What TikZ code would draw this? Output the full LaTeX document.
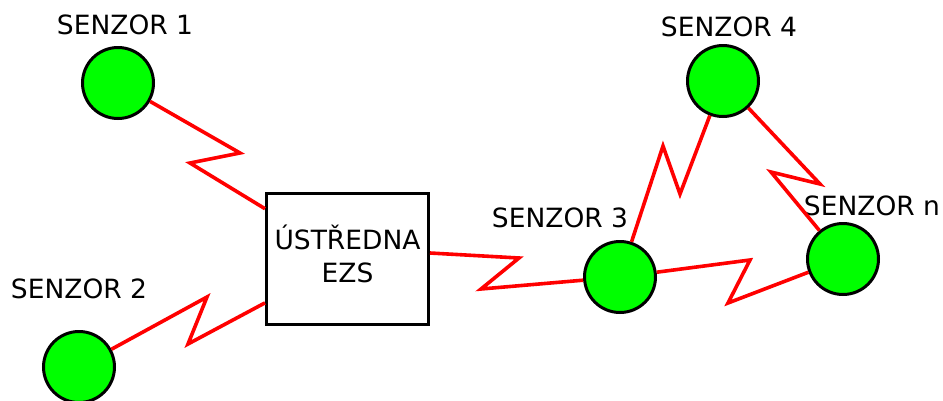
\documentclass[tikz,border=0pt]{standalone}
\usepackage{fontspec}
\setmainfont{DejaVu Sans}
\begin{document}
\begin{tikzpicture}[x=1pt,y=-1pt,
  sensor/.style={circle,draw=black,line width=3pt,fill={rgb,255:red,0;green,255;blue,0},minimum size=71pt,inner sep=0pt},
  lbl/.style={font=\fontsize{26.5}{30}\selectfont,inner sep=0pt},
  link/.style={draw={rgb,255:red,255;green,0;blue,0},line width=3.6pt,line join=miter},
  unit/.style={draw=black,line width=3pt,minimum width=162pt,minimum height=131pt,inner sep=0pt},
  unittext/.style={align=center,inner sep=0pt,font=\fontsize{26.5}{33}\selectfont}]
\useasboundingbox (0,0) rectangle (943,400);
\node[sensor] (s1) at (118,83) {};
\node[sensor] (s2) at (79,367) {};
\node[sensor] (s3) at (620,277) {};
\node[sensor] (s4) at (723,81) {};
\node[sensor] (sn) at (843,259) {};
\node[unit] (box) at (347.5,259) {};
\node[unittext] (boxtext) at (347.5,254) {ÚSTŘEDNA\\EZS};
\node[lbl] (l1) at (125,25) {SENZOR 1};
\node[lbl] (l2) at (79,289) {SENZOR 2};
\node[lbl] (l3) at (560,218) {SENZOR 3};
\node[lbl] (l4) at (729,27) {SENZOR 4};
\node[lbl] (ln) at (872,206) {SENZOR n};
\coordinate (a1) at (240,153); \coordinate (b1) at (190,163);
\coordinate (a2) at (207,297); \coordinate (b2) at (188,344);
\coordinate (a3) at (519,258); \coordinate (b3) at (481,289);
\coordinate (a4) at (663,146); \coordinate (b4) at (680,194);
\coordinate (a5) at (820,184); \coordinate (b5) at (771,172);
\coordinate (a6) at (750,260); \coordinate (b6) at (728,303);
\draw[link] (s1) -- (a1) -- (b1) -- (box);
\draw[link] (s2) -- (a2) -- (b2) -- (box);
\draw[link] (box.east |- 0,253) -- (a3) -- (b3) -- (s3);
\draw[link] (s3) -- (a4) -- (b4) -- (s4);
\draw[link] (s4) -- (a5) -- (b5) -- (sn);
\draw[link] (s3) -- (a6) -- (b6) -- (sn);
\end{tikzpicture}
\end{document}
